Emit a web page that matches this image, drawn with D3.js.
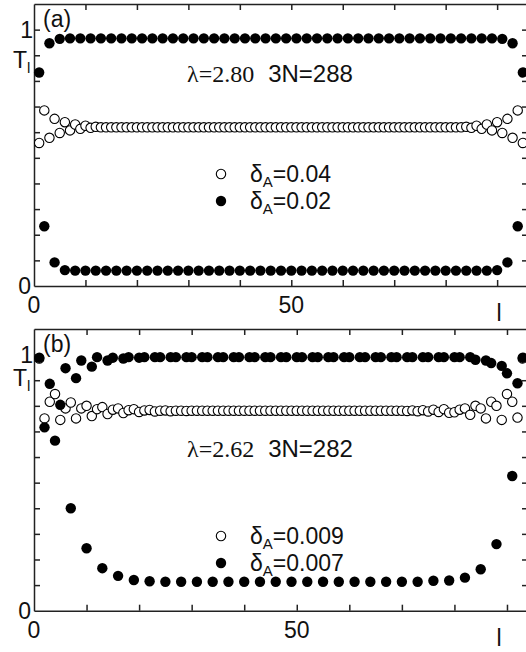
<!DOCTYPE html>
<html>
<head>
<meta charset="utf-8">
<script src="https://d3js.org/d3.v7.min.js"></script>
<style>
  body { margin: 0; background: #fff; }
  svg { display: block; font-family: "Liberation Sans", Arial, sans-serif; }
  .axis path, .axis line { stroke: #222; stroke-width: 1.5px; }
  .lbl { font-size: 23px; fill: #111; }
</style>
</head>
<body>
<script>
// ---- panel (a): lambda=2.80, 3N=288, sites l = 1..95
var openA = [
  0.558, 0.685, 0.578, 0.652, 0.597, 0.639, 0.607, 0.630, 0.613, 0.625,
  0.617, 0.621, 0.619, 0.619, 0.619, 0.619, 0.619, 0.619, 0.619, 0.619,
  0.619, 0.619, 0.619, 0.619, 0.619, 0.619, 0.619, 0.619, 0.619, 0.619,
  0.619, 0.619, 0.619, 0.619, 0.619, 0.619, 0.619, 0.619, 0.619, 0.619,
  0.619, 0.619, 0.619, 0.619, 0.619, 0.619, 0.619, 0.619, 0.619, 0.619,
  0.619, 0.619, 0.619, 0.619, 0.619, 0.619, 0.619, 0.619, 0.619, 0.619,
  0.619, 0.619, 0.619, 0.619, 0.619, 0.619, 0.619, 0.619, 0.619, 0.619,
  0.619, 0.619, 0.619, 0.619, 0.619, 0.619, 0.619, 0.619, 0.619, 0.619,
  0.619, 0.619, 0.619, 0.621, 0.617, 0.625, 0.613, 0.630, 0.607, 0.639,
  0.597, 0.652, 0.578, 0.685, 0.558
];
var filledA = [
  0.833, 0.233, 0.947, 0.092, 0.964, 0.062, 0.966, 0.060, 0.966, 0.060,
  0.966, 0.060, 0.966, 0.060, 0.966, 0.060, 0.966, 0.060, 0.966, 0.060,
  0.966, 0.060, 0.966, 0.060, 0.966, 0.060, 0.966, 0.060, 0.966, 0.060,
  0.966, 0.060, 0.966, 0.060, 0.966, 0.060, 0.966, 0.060, 0.966, 0.060,
  0.966, 0.060, 0.966, 0.060, 0.966, 0.060, 0.966, 0.060, 0.966, 0.060,
  0.966, 0.060, 0.966, 0.060, 0.966, 0.060, 0.966, 0.060, 0.966, 0.060,
  0.966, 0.060, 0.966, 0.060, 0.966, 0.060, 0.966, 0.060, 0.966, 0.060,
  0.966, 0.060, 0.966, 0.060, 0.966, 0.060, 0.966, 0.060, 0.966, 0.060,
  0.966, 0.060, 0.966, 0.060, 0.966, 0.060, 0.966, 0.060, 0.966, 0.062,
  0.964, 0.092, 0.947, 0.233, 0.833
];

// ---- panel (b): lambda=2.62, 3N=282, sites l = 1..93
var openB = [
  0.985, 0.751, 0.816, 0.846, 0.745, 0.790, 0.813, 0.751, 0.790, 0.800,
  0.760, 0.787, 0.795, 0.768, 0.785, 0.790, 0.772, 0.783, 0.787, 0.776,
  0.782, 0.784, 0.778, 0.781, 0.782, 0.779, 0.781, 0.781, 0.780, 0.781,
  0.781, 0.781, 0.781, 0.781, 0.781, 0.781, 0.781, 0.781, 0.781, 0.781,
  0.781, 0.781, 0.781, 0.781, 0.781, 0.781, 0.781, 0.781, 0.781, 0.781,
  0.781, 0.781, 0.781, 0.781, 0.781, 0.781, 0.781, 0.781, 0.781, 0.781,
  0.781, 0.781, 0.781, 0.781, 0.781, 0.781, 0.781, 0.781, 0.781, 0.781,
  0.780, 0.782, 0.779, 0.783, 0.778, 0.785, 0.776, 0.787, 0.773, 0.775,
  0.785, 0.790, 0.765, 0.800, 0.790, 0.751, 0.816, 0.800, 0.745, 0.846,
  0.816, 0.754, 0.985
];
var filledB = [
  0.988, 0.716, 0.886, 0.664, 0.804, 0.947, 0.400, 0.908, 0.977, 0.244,
  0.953, 0.990, 0.166, 0.977, 0.988, 0.136, 0.985, 0.990, 0.120, 0.988,
  0.990, 0.115, 0.990, 0.990, 0.113, 0.990, 0.990, 0.113, 0.990, 0.990,
  0.113, 0.990, 0.990, 0.113, 0.990, 0.990, 0.113, 0.990, 0.990, 0.113,
  0.990, 0.990, 0.113, 0.990, 0.990, 0.113, 0.990, 0.990, 0.113, 0.990,
  0.990, 0.113, 0.990, 0.990, 0.113, 0.990, 0.990, 0.113, 0.990, 0.990,
  0.113, 0.990, 0.990, 0.113, 0.990, 0.990, 0.113, 0.990, 0.990, 0.113,
  0.990, 0.990, 0.113, 0.990, 0.990, 0.117, 0.990, 0.990, 0.118, 0.990,
  0.990, 0.129, 0.990, 0.980, 0.162, 0.977, 0.967, 0.260, 0.956, 0.927,
  0.526, 0.888, 0.988
];

var xTicks = [10, 20, 30, 40, 50, 60, 70, 80, 90];
var yTicks = [0.1, 0.2, 0.3, 0.4, 0.5, 0.6, 0.7, 0.8, 0.9, 1.0];

var W = 526, H = 652;
var svg = d3.select("body").append("svg").attr("width", W).attr("height", H);

var panels = [
  { tag: "(a)", open: openA, filled: filledA, nmax: 96,
    top: 4, bottom: 286, lam: "\u03bb=2.80", n3: "3N=288",
    legOpen: "0.04", legFilled: "0.02",
    txtY: 82, legY: 174, tY: 68 },
  { tag: "(b)", open: openB, filled: filledB, nmax: 94,
    top: 329, bottom: 610.7, lam: "\u03bb=2.62", n3: "3N=282",
    legOpen: "0.009", legFilled: "0.007",
    txtY: 457, legY: 536, tY: 386 }
];

panels.forEach(function(p) {
  var x = d3.scaleLinear().domain([0, p.nmax]).range([34, 528]);
  var y = d3.scaleLinear().domain([0, 1.1]).range([p.bottom, p.top]);
  var g = svg.append("g");

  // frame with inward ticks
  g.append("g").attr("class", "axis")
    .attr("transform", "translate(0," + p.bottom + ")")
    .call(d3.axisBottom(x).tickValues(xTicks).tickSize(-6).tickSizeOuter(0).tickFormat(""));
  g.append("g").attr("class", "axis")
    .attr("transform", "translate(0," + p.top + ")")
    .call(d3.axisTop(x).tickValues(xTicks).tickSize(-6).tickSizeOuter(0).tickFormat(""));
  g.append("g").attr("class", "axis")
    .attr("transform", "translate(34,0)")
    .call(d3.axisLeft(y).tickValues(yTicks).tickSize(-6).tickSizeOuter(0).tickFormat(""));
  g.append("g").attr("class", "axis")
    .attr("transform", "translate(528,0)")
    .call(d3.axisRight(y).tickValues(yTicks).tickSize(-6).tickSizeOuter(0).tickFormat(""));

  // data
  g.selectAll("circle.open").data(p.open).enter().append("circle")
    .attr("class", "open")
    .attr("cx", function(d, i) { return x(i + 1); })
    .attr("cy", function(d) { return y(d); })
    .attr("r", 4.7)
    .attr("fill", "#fff").attr("stroke", "#000").attr("stroke-width", 1.1);
  g.selectAll("circle.filled").data(p.filled).enter().append("circle")
    .attr("class", "filled")
    .attr("cx", function(d, i) { return x(i + 1); })
    .attr("cy", function(d) { return y(d); })
    .attr("r", 5.2)
    .attr("fill", "#000");

  // tick labels
  g.append("text").attr("class", "lbl").attr("x", 31).attr("y", y(0) + 8)
    .attr("text-anchor", "end").text("0");
  g.append("text").attr("class", "lbl").attr("x", 33).attr("y", y(1) + 8)
    .attr("text-anchor", "end").text("1");
  g.append("text").attr("class", "lbl").attr("x", x(0)).attr("y", p.bottom + 27)
    .attr("text-anchor", "middle").text("0");
  g.append("text").attr("class", "lbl").attr("x", x(50)).attr("y", p.bottom + 27)
    .attr("text-anchor", "middle").text("50");
  g.append("text").attr("class", "lbl").attr("x", 499).attr("y", p.bottom + 35)
    .attr("text-anchor", "middle").text("l");

  // y title T_l
  var t = g.append("text").attr("class", "lbl").attr("x", 13).attr("y", p.tY);
  t.append("tspan").text("T");
  t.append("tspan").attr("font-size", "15px").attr("dy", 5).text("l");

  // panel tag
  g.append("text").attr("class", "lbl").attr("x", 43).attr("y", p.top + 23).text(p.tag);

  // parameters
  var par = g.append("text").attr("class", "lbl").attr("x", 187).attr("y", p.txtY);
  par.append("tspan").attr("font-family", "'Liberation Serif', 'Times New Roman', serif")
    .attr("font-size", "24px").text(p.lam);
  par.append("tspan").attr("dx", 14).attr("font-size", "24px").text(p.n3);

  // legend
  var leg = [
    { lab: p.legOpen, open: true },
    { lab: p.legFilled, open: false }
  ];
  leg.forEach(function(d, i) {
    var cy = p.legY + i * 27;
    g.append("circle").attr("cx", 221).attr("cy", cy).attr("r", d.open ? 4.7 : 5.2)
      .attr("fill", d.open ? "#fff" : "#000").attr("stroke", "#000")
      .attr("stroke-width", d.open ? 1.1 : 0);
    var tx = g.append("text").attr("class", "lbl").attr("x", 250).attr("y", cy + 8);
    tx.append("tspan").text("\u03b4");
    tx.append("tspan").attr("font-size", "15px").attr("dy", 5).text("A");
    tx.append("tspan").attr("dy", -5).text("=" + d.lab);
  });
});
</script>
</body>
</html>
